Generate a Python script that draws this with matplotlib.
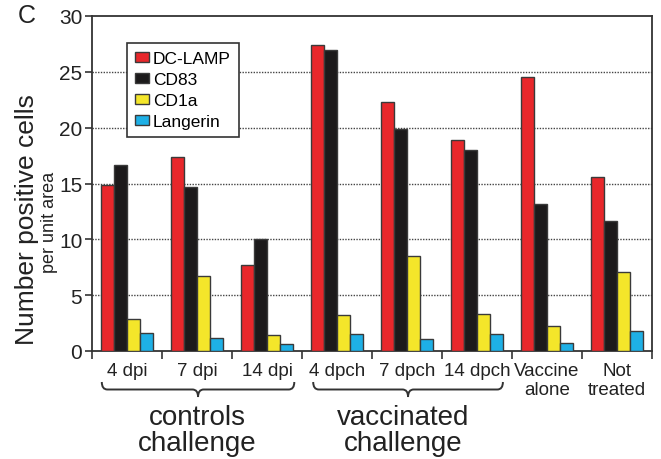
import numpy as np
import matplotlib
matplotlib.use("Agg")
import matplotlib.pyplot as plt
from matplotlib.path import Path
from matplotlib.patches import PathPatch
import matplotlib.transforms as mtransforms

plt.rcParams["font.family"] = ["Liberation Sans", "DejaVu Sans"]

# ── data ────────────────────────────────────────────────
groups = ["4 dpi", "7 dpi", "14 dpi", "4 dpch", "7 dpch", "14 dpch",
          "Vaccine\nalone", "Not\ntreated"]
markers = ["DC-LAMP", "CD83", "CD1a", "Langerin"]
dc_lamp  = [14.9, 17.4, 7.7, 27.4, 22.3, 18.9, 24.5, 15.6]
cd83     = [16.7, 14.7, 10.0, 27.0, 19.9, 18.0, 13.2, 11.6]
cd1a     = [2.9, 6.7, 1.4, 3.2, 8.5, 3.3, 2.2, 7.1]
langerin = [1.6, 1.2, 0.6, 1.5, 1.1, 1.5, 0.7, 1.8]

COLORS = ["#E8272B", "#1C1A1B", "#F4E62A", "#1EB0E6"]
EDGE = "#3a3a3a"
TXT = "#222"

fig = plt.figure(figsize=(6.61, 4.60), dpi=100, facecolor="white")
ax = fig.add_axes([92 / 661, 108 / 460, 560 / 661, 335 / 460])

x = np.arange(len(groups))
w = 0.186
for i, (vals, col, lab) in enumerate(zip([dc_lamp, cd83, cd1a, langerin], COLORS, markers)):
    ax.bar(x + (i - 1.5) * w, vals, width=w, color=col, edgecolor=EDGE,
           linewidth=1.0, label=lab, zorder=3)

ax.set_xlim(-0.5, 7.5)
ax.set_ylim(0, 30)
ax.set_yticks(range(0, 31, 5))
ax.tick_params(axis="y", labelsize=15, length=5, width=1.2, pad=2, colors="#333",
               labelcolor=TXT)
for y in range(5, 30, 5):
    ax.axhline(y, color="#444", linestyle=(0, (1, 1)), linewidth=1.0, zorder=1)

# group boundary ticks on the bottom, labels at the group centres
ax.set_xticks(np.arange(-0.5, 8, 1))
ax.set_xticklabels([])
ax.tick_params(axis="x", which="major", length=6, width=1.2, direction="out", colors="#333")
ax.set_xticks(x, minor=True)
ax.set_xticklabels(groups, minor=True, fontsize=13.5, color=TXT, linespacing=1.15)
ax.tick_params(axis="x", which="minor", length=0, pad=8)

for s in ax.spines.values():
    s.set_color("#333")
    s.set_linewidth(1.3)

leg = ax.legend(loc="upper left", bbox_to_anchor=(0.0625, 0.919), borderaxespad=0,
                fontsize=12.5, handlelength=0.8, handleheight=0.55, handletextpad=0.25,
                labelspacing=0.35, borderpad=0.45, fancybox=False,
                edgecolor="#333", framealpha=1)
leg.get_frame().set_linewidth(1.2)
for h in leg.legend_handles:
    h.set_edgecolor(EDGE)

# y labels
fig.text(27 / 661, 1 - 220 / 460, "Number positive cells", rotation=90,
         ha="center", va="center", fontsize=19, color=TXT)
fig.text(49 / 661, 1 - 222 / 460, "per unit area", rotation=90,
         ha="center", va="center", fontsize=13, color=TXT)
fig.text(18 / 661, 1 - 16 / 460, "C", ha="left", va="center",
         fontsize=18, color=TXT)

# curly braces under the grouped categories
trans = mtransforms.blended_transform_factory(ax.transData, fig.transFigure)


def brace(x0, x1, ytop, ybot):
    xm = (x0 + x1) / 2
    ym = (ytop + ybot) / 2
    r = 0.08
    verts = [(x0, ytop), (x0, ym), (x0 + r, ym), (xm - r, ym), (xm, ym), (xm, ybot),
             (xm, ym), (xm + r, ym), (x1 - r, ym), (x1, ym), (x1, ytop)]
    codes = [Path.MOVETO, Path.CURVE3, Path.CURVE3, Path.LINETO, Path.CURVE3, Path.CURVE3,
             Path.CURVE3, Path.CURVE3, Path.LINETO, Path.CURVE3, Path.CURVE3]
    p = PathPatch(Path(verts, codes), transform=trans, fill=False,
                  edgecolor="#333", linewidth=1.4, clip_on=False)
    fig.add_artist(p)


brace(-0.36, 2.39, 1 - 383 / 460, 1 - 398 / 460)
brace(2.66, 5.37, 1 - 383 / 460, 1 - 398 / 460)

fig.text(1.0, 1 - 431 / 460, "controls\nchallenge", transform=trans, ha="center",
         va="center", fontsize=20, color=TXT, linespacing=1.0)
fig.text(3.95, 1 - 431 / 460, "vaccinated\nchallenge", transform=trans, ha="center",
         va="center", fontsize=20, color=TXT, linespacing=1.0)

fig.savefig("out.png", dpi=100, facecolor="white")
